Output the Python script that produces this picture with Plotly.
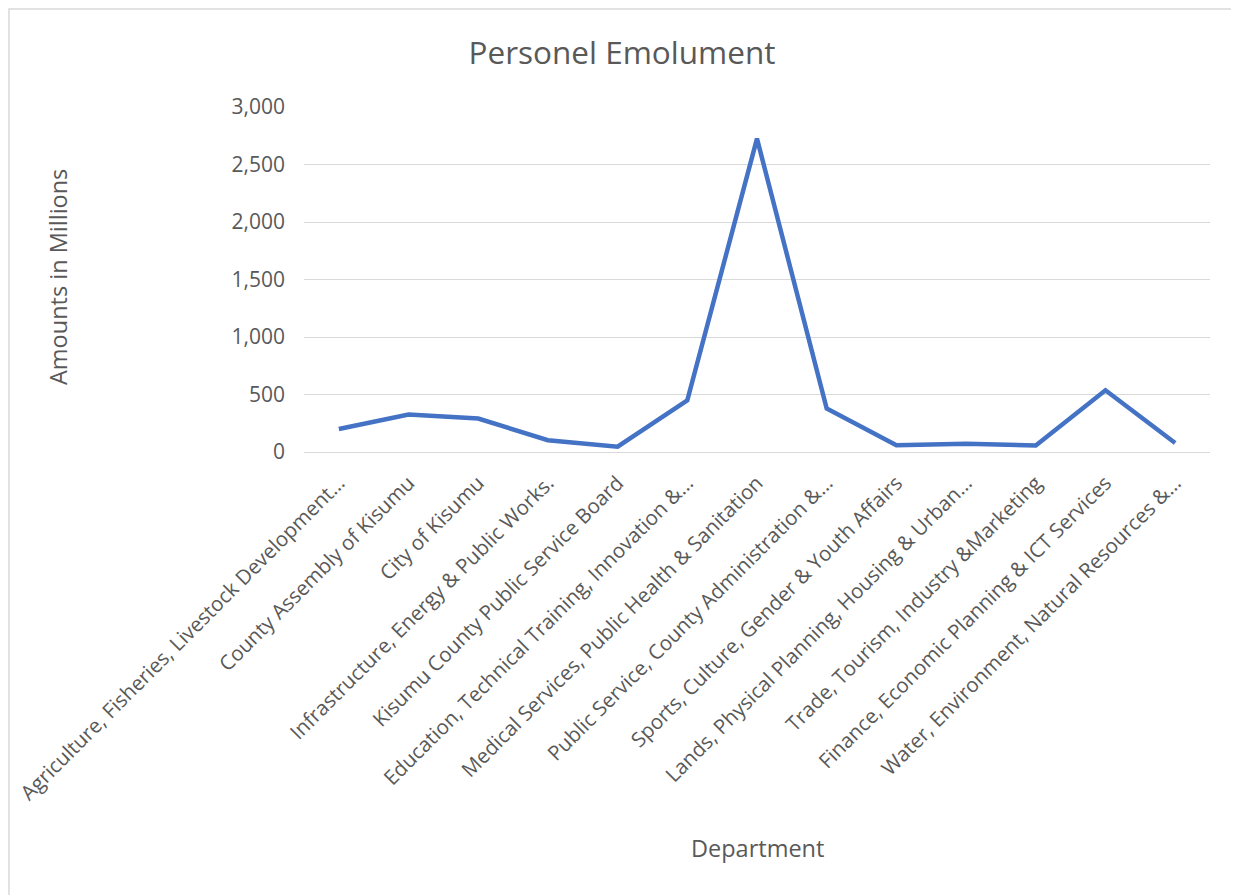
import plotly.graph_objects as go

departments = [
    "Agriculture, Fisheries, Livestock Development…",
    "County Assembly of Kisumu",
    "City of Kisumu",
    "Infrastructure, Energy & Public Works.",
    "Kisumu County Public Service Board",
    "Education, Technical Training, Innovation &…",
    "Medical Services, Public Health & Sanitation",
    "Public Service, County Administration &…",
    "Sports, Culture, Gender & Youth Affairs",
    "Lands, Physical Planning, Housing & Urban…",
    "Trade, Tourism, Industry &Marketing",
    "Finance, Economic Planning & ICT Services",
    "Water, Environment, Natural Resources &…",
]
amounts = [200, 326, 291, 102, 46, 450, 2725, 378, 58, 72, 57, 537, 78]

y_ticks = [0, 500, 1000, 1500, 2000, 2500, 3000]

# page has an 8px body margin; figure sized to fit the window
OFF = 8
W, H = 1239 - OFF, 895 - OFF
ml = 304 - OFF
mt = 107 - OFF
mr = W - (1210 - OFF)
mb = H - (452 - OFF)

fig = go.Figure()
fig.add_trace(go.Scatter(
    x=departments, y=amounts, mode="lines",
    line=dict(color="#4472C4", width=4.5),
    hoverinfo="x+y",
))

font_fam = "Open Sans, Liberation Sans, sans-serif"
grey = "#595959"

pw = W - ml - mr
ph = H - mt - mb
def px_x(px):
    return (px - OFF - ml) / pw
def px_y(py):
    return (H - mb - (py - OFF)) / ph

fig.update_layout(
    width=W, height=H,
    margin=dict(l=ml, r=mr, t=mt, b=mb),
    paper_bgcolor="white", plot_bgcolor="white",
    showlegend=False,
    font=dict(family=font_fam, color=grey),
    title=dict(text="Personel Emolument", x=(622 - OFF) / W, xanchor="center",
               y=1 - (53 - OFF) / H, yanchor="middle",
               font=dict(size=31.5, color=grey, family=font_fam)),
    xaxis=dict(
        tickangle=-45, tickfont=dict(size=20.5, color=grey),
        showgrid=False, showline=False, ticks="",
        ticklabelstandoff=14,
        range=[-0.5, len(departments) - 0.5],
        automargin=False,
    ),
    yaxis=dict(
        range=[0, 3000], tickvals=y_ticks,
        ticktext=[f"{v:,}" for v in y_ticks],
        tickfont=dict(size=21, color=grey),
        showgrid=True, gridcolor="#d9d9d9", gridwidth=1.3,
        zeroline=True, zerolinecolor="#d9d9d9", zerolinewidth=1.3,
        showline=False, ticks="", ticklabelstandoff=18,
        automargin=False,
    ),
)

fig.add_annotation(text="Amounts in Millions", xref="paper", yref="paper",
                   x=px_x(58), y=px_y(277), textangle=-90,
                   showarrow=False, font=dict(size=23.5, color=grey),
                   xanchor="center", yanchor="middle")
fig.add_annotation(text="Department", xref="paper", yref="paper",
                   x=px_x(757), y=px_y(848),
                   showarrow=False, font=dict(size=23.5, color=grey),
                   xanchor="center", yanchor="middle")

fig.add_shape(type="rect", xref="paper", yref="paper",
              x0=px_x(9), x1=px_x(1237),
              y0=px_y(905), y1=px_y(9),
              line=dict(color="#d9d9d9", width=1.5), fillcolor="rgba(0,0,0,0)",
              layer="below")

fig.write_html("out.html")
